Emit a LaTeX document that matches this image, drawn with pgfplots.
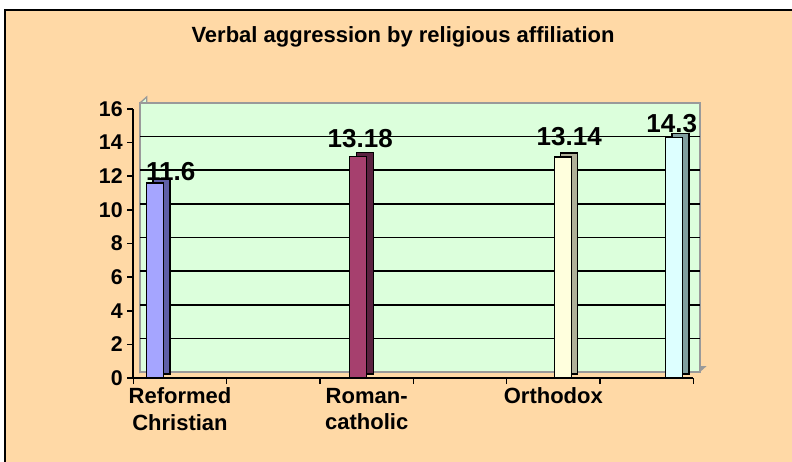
\documentclass[border=0pt]{standalone}
\usepackage{pgfplots}
\pgfplotsset{compat=1.18}
\usepackage{fontspec}
\setmainfont{Liberation Sans}

\definecolor{peach}{HTML}{FFD9A6}
\definecolor{wall}{HTML}{DCFFDC}
\definecolor{wallline}{HTML}{9A9A9A}
\definecolor{reffront}{HTML}{A5A5FF}
\definecolor{refside}{HTML}{5F5FA8}
\definecolor{romfront}{HTML}{A6406E}
\definecolor{romside}{HTML}{5A2240}
\definecolor{ortfront}{HTML}{FFFFDD}
\definecolor{ortside}{HTML}{B0B098}
\definecolor{fourfront}{HTML}{DDFFFF}
\definecolor{fourside}{HTML}{7F9E9E}

\begin{document}
\begin{tikzpicture}
\path[use as bounding box] (-105pt,-66.75pt) rectangle (489pt,279pt);
\clip (-105pt,-66.75pt) rectangle (489pt,279pt);
\fill[white] (-105pt,-66.75pt) rectangle (489pt,279pt);
\filldraw[fill=peach, draw=black, line width=1.5pt] (-101.25pt,-90pt) rectangle (510pt,271.5pt);
\node[font=\bfseries\fontsize{16.5}{19}\selectfont] at (197.25pt,251.25pt)
  {Verbal aggression by religious affiliation};
% floor and left side of the 3-d frame (axis is 420pt x 201.75pt at the origin)
\fill[wallline] (0,0) -- (420pt,0) -- (425pt,4.5pt) -- (5pt,4.5pt) -- cycle;
\filldraw[fill=wall, draw=wallline, line width=1pt]
  (0,0) -- (0,201.75pt) -- (5pt,206.25pt) -- (5pt,4.5pt) -- cycle;
\begin{axis}[
  at={(0,0)}, anchor=south west,
  scale only axis, width=420pt, height=201.75pt,
  clip=false,
  axis background/.style={fill=wall, draw=wallline, line width=1.2pt,
    shift={(5pt,4.5pt)}},
  xmin=0, xmax=6, ymin=0, ymax=16,
  ybar, bar width=12.75pt, bar shift=0pt,
  axis lines*=left,
  axis line style={line width=1.5pt, black},
  xtick={0,...,6}, xticklabels={},
  ytick={0,2,...,16},
  tick align=outside, major tick length=4.5pt,
  tick style={line width=1.2pt, black},
  extra x ticks={0.5,2.5,4.5},
  extra x tick labels={Reformed\\Christian, Roman-\\catholic, Orthodox},
  extra x tick style={major tick length=0pt,
    tick label style={align=center, anchor=north, yshift=-4pt,
      font=\bfseries\fontsize{16.5}{20}\selectfont}},
  /pgf/number format/assume math mode=true,
  tick label style={font=\bfseries\fontsize{16}{20}\selectfont},
  nodes near coords style={font=\bfseries\fontsize{19.5}{20}\selectfont,
    anchor=south, inner sep=0pt},
]
% grid lines on the back wall
\draw[black, line width=1.2pt, shift={(5pt,4.5pt)}] (axis cs:0,2) -- (axis cs:6,2);
\draw[black, line width=1.2pt, shift={(5pt,4.5pt)}] (axis cs:0,4) -- (axis cs:6,4);
\draw[black, line width=1.2pt, shift={(5pt,4.5pt)}] (axis cs:0,6) -- (axis cs:6,6);
\draw[black, line width=1.2pt, shift={(5pt,4.5pt)}] (axis cs:0,8) -- (axis cs:6,8);
\draw[black, line width=1.2pt, shift={(5pt,4.5pt)}] (axis cs:0,10) -- (axis cs:6,10);
\draw[black, line width=1.2pt, shift={(5pt,4.5pt)}] (axis cs:0,12) -- (axis cs:6,12);
\draw[black, line width=1.2pt, shift={(5pt,4.5pt)}] (axis cs:0,14) -- (axis cs:6,14);
% Reformed Christian
\addplot[fill=refside, draw=black, line width=0.9pt, xshift=5pt, yshift=3pt]
  coordinates {(0.23,11.6)};
\addplot[fill=reffront, draw=black, line width=0.9pt, nodes near coords,
  nodes near coords style={xshift=12pt, yshift=1.5pt}] coordinates {(0.23,11.6)};
% Roman-catholic
\addplot[fill=romside, draw=black, line width=0.9pt, xshift=5pt, yshift=3pt]
  coordinates {(2.41,13.18)};
\addplot[fill=romfront, draw=black, line width=0.9pt, nodes near coords,
  nodes near coords style={xshift=1.5pt, yshift=6pt}] coordinates {(2.41,13.18)};
% Orthodox
\addplot[fill=ortside, draw=black, line width=0.9pt, xshift=5pt, yshift=3pt]
  coordinates {(4.60,13.14)};
\addplot[fill=ortfront, draw=black, line width=0.9pt, nodes near coords,
  nodes near coords style={xshift=4.9pt, yshift=8.25pt}] coordinates {(4.60,13.14)};
% fourth group
\addplot[fill=fourside, draw=black, line width=0.9pt, xshift=5pt, yshift=3pt]
  coordinates {(5.79,14.3)};
\addplot[fill=fourfront, draw=black, line width=0.9pt, nodes near coords,
  nodes near coords style={xshift=-1.5pt, yshift=3.5pt}] coordinates {(5.79,14.3)};
\end{axis}
\end{tikzpicture}
\end{document}
